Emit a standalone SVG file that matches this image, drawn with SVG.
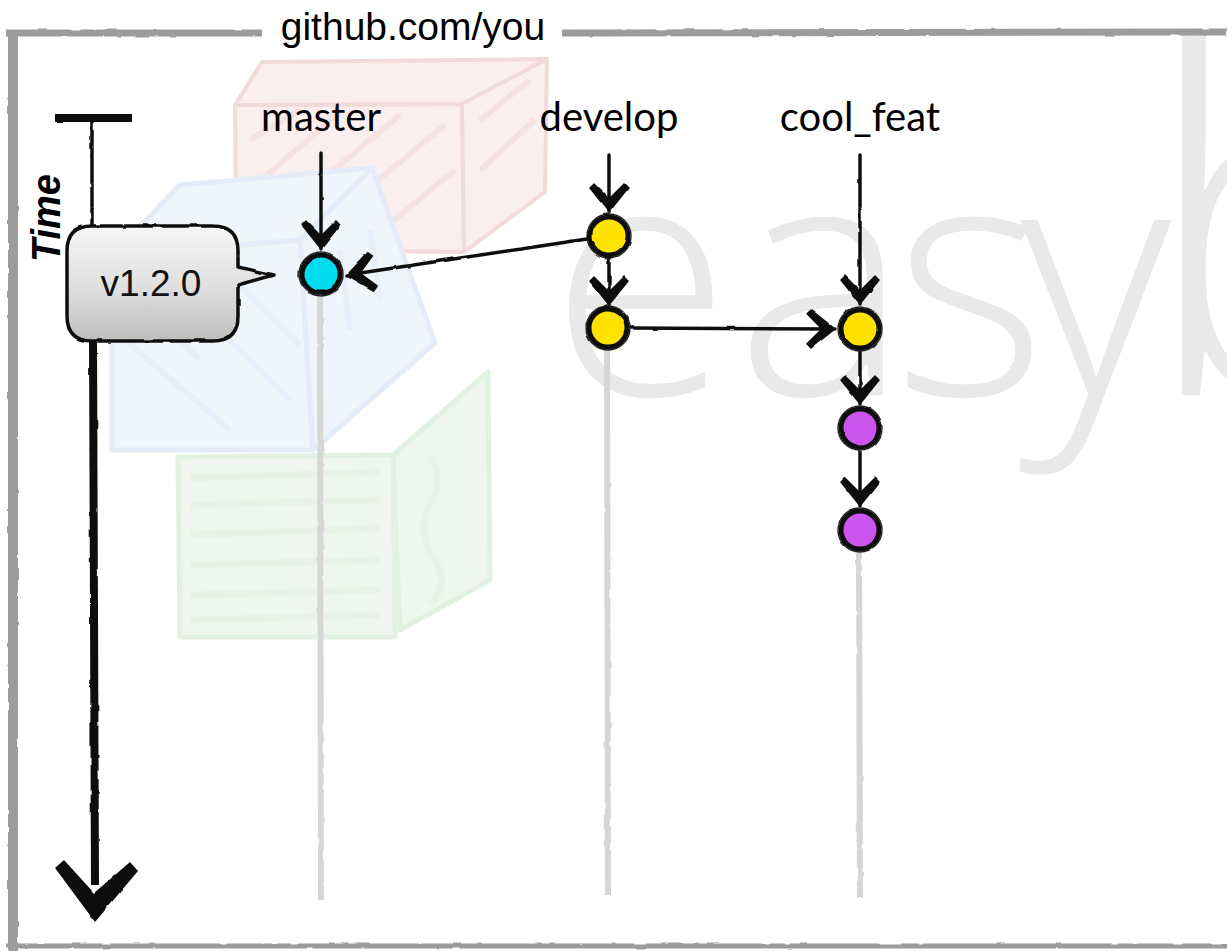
<svg xmlns="http://www.w3.org/2000/svg" width="1227" height="951" viewBox="0 0 1227 951">
  <defs>
    <style>
      .wm { fill: #e9e9e9; font-family: "Open Sans", "Noto Sans", sans-serif; font-weight: 300; }
      .frame { fill: none; stroke: #9c9c9c; stroke-linecap: butt; }
      .rail { fill: none; stroke: #d6d6d6; stroke-width: 6; stroke-linecap: butt; }
      .edge { fill: none; stroke: #111; stroke-width: 3.5; stroke-linecap: round; marker-end: url(#chev); }
      .ring { stroke: #111; stroke-width: 5; }
      .ring2 { fill: none; stroke: #222; stroke-width: 1.4; }
      .branch { font-family: Lato, "Open Sans", sans-serif; font-size: 40px; fill: #000; text-anchor: middle; }
      .cyan { fill: #00dcf0; }
      .yellow { fill: #ffe200; }
      .purple { fill: #cc55f0; }
    </style>
    <marker id="chev" viewBox="-31 -22 33 44" refX="0" refY="0" markerWidth="33" markerHeight="44" markerUnits="userSpaceOnUse" orient="auto">
      <path d="M1,0 L-24,-20 L-29,-15 L-14,0 L-29,15 L-24,20 Z" fill="#111"/>
    </marker>
    <linearGradient id="bubble" x1="0" y1="0" x2="0" y2="1">
      <stop offset="0" stop-color="#f6f6f6"/>
      <stop offset="0.55" stop-color="#dedede"/>
      <stop offset="1" stop-color="#bdbdbd"/>
    </linearGradient>
    <filter id="rough" x="-5%" y="-5%" width="110%" height="110%">
      <feTurbulence type="fractalNoise" baseFrequency="0.06" numOctaves="2" seed="3"/>
      <feDisplacementMap in="SourceGraphic" scale="2.5" xChannelSelector="R" yChannelSelector="G"/>
    </filter>
  </defs>

  <rect width="1227" height="951" fill="#fff"/>

  <!-- faint sketched blocks of the logo -->
  <g id="logo-blocks" opacity="0.8">
    <g id="block-red" fill="#faeaea" stroke="#f1d2d2" stroke-width="4" stroke-linejoin="round">
      <path d="M235,105 L462,104 L464,252 L236,250 Z"/>
      <path d="M235,105 L262,62 L547,59 L462,104 Z"/>
      <path d="M462,104 L547,59 L545,192 L464,252 Z"/>
      <g fill="none" stroke="#f4dcdc" stroke-width="6">
        <path d="M250,140 L300,110 M250,190 L340,112 M255,235 L400,115 M300,245 L445,125 M360,248 L455,170"/>
        <path d="M480,120 L530,80 M480,170 L535,120"/>
      </g>
    </g>
    <g id="block-blue" fill="#edf3fc" stroke="#dfe8f8" stroke-width="5" stroke-linejoin="round">
      <path d="M112,255 L300,240 L313,450 L112,450 Z"/>
      <path d="M112,255 L180,185 L372,168 L300,240 Z"/>
      <path d="M300,240 L372,168 L435,343 L313,450 Z"/>
      <g fill="none" stroke="#e3ebf9" stroke-width="6">
        <path d="M125,290 L200,360 M125,340 L230,430 M160,270 L290,400 M220,265 L300,345"/>
        <path d="M340,250 L350,330 M370,230 L380,300"/>
      </g>
    </g>
    <g id="block-green" fill="#ecf5ec" stroke="#dcefdc" stroke-width="5" stroke-linejoin="round">
      <path d="M178,457 L393,455 L395,637 L180,637 Z"/>
      <path d="M393,455 L488,372 L490,580 L400,630 Z"/>
      <g fill="none" stroke="#e2f1e2" stroke-width="7">
        <path d="M190,478 L380,472 M190,505 L380,500 M190,535 L380,528 M190,565 L380,560 M190,595 L380,590 M190,620 L380,615"/>
        <path d="M430,455 Q445,480 430,505 Q415,530 435,560 Q450,585 430,605"/>
      </g>
    </g>
  </g>

  <!-- watermark lettering -->
  <text id="watermark" class="wm" y="395" font-size="330"><tspan x="550">e</tspan><tspan x="735">a</tspan><tspan x="893">s</tspan><tspan x="1020">y</tspan><tspan x="1140" font-size="480">b</tspan></text>

  <!-- outer frame -->
  <g id="frame" filter="url(#rough)">
    <path class="frame" d="M6,33 L262,33" stroke-width="7"/>
    <path class="frame" d="M562,33 L1227,32" stroke-width="7"/>
    <path class="frame" d="M13,30 L13,951" stroke-width="10" stroke="#a3a3a3"/>
    <path class="frame" d="M6,946 L1227,946" stroke-width="5" stroke="#adadad"/>
  </g>
  <text id="title" x="413" y="40" font-family="'Liberation Sans', Arial, sans-serif" font-size="39" text-anchor="middle" fill="#000">github.com/you</text>

  <!-- time axis -->
  <g id="time-axis" filter="url(#rough)">
    <path d="M55,118 L132,118" stroke="#111" stroke-width="8" fill="none"/>
    <path d="M92,118 L92,230" stroke="#111" stroke-width="3.5" fill="none"/>
    <path d="M93,338 L95,885" stroke="#111" stroke-width="8" fill="none"/>
    <path d="M55,868 L64,860 L94,893 L130,862 L138,871 L95,922 Z" fill="#111"/>
  </g>
  <text id="time-label" transform="translate(60,262) rotate(-90)" font-family="'Liberation Sans', Arial, sans-serif" font-weight="bold" font-style="italic" font-size="40" textLength="88" lengthAdjust="spacingAndGlyphs" fill="#000">Time</text>

  <!-- branch rails -->
  <g id="rails" filter="url(#rough)">
    <path class="rail" d="M320,297 L321,900"/>
    <path class="rail" d="M607,350 L608,895"/>
    <path class="rail" d="M859,553 L860,898"/>
  </g>

  <!-- tag callout -->
  <g id="tag-v1.2.0">
    <path d="M92,226 L213,226 Q238,226 238,251 L238,267 L273,275 L238,285 L238,316 Q238,341 213,341 L92,341 Q67,341 67,316 L67,251 Q67,226 92,226 Z" fill="url(#bubble)" stroke="#111" stroke-width="3.5" stroke-linejoin="round" filter="url(#rough)"/>
    <text x="151" y="296" font-family="'Liberation Sans', Arial, sans-serif" font-size="37" text-anchor="middle" fill="#111">v1.2.0</text>
  </g>

  <!-- branch labels -->
  <text id="label-master" class="branch" x="321" y="131">master</text>
  <text id="label-develop" class="branch" x="609" y="131">develop</text>
  <text id="label-cool_feat" class="branch" x="860" y="131">cool_feat</text>

  <!-- connectors -->
  <g id="connectors" filter="url(#rough)">
    <path class="edge" d="M321,153 L321,249"/>
    <path class="edge" d="M609,155 L609,212"/>
    <path class="edge" d="M860,155 L860,304"/>
    <path class="edge" d="M587,239 L347,275"/>
    <path class="edge" d="M609,258 L609,305"/>
    <path class="edge" d="M631,328 L835,329"/>
    <path class="edge" d="M860,351 L860,404"/>
    <path class="edge" d="M860,451 L860,506"/>
  </g>

  <!-- commits -->
  <g id="commit-master" filter="url(#rough)">
    <circle class="cyan ring" cx="321" cy="274" r="19"/>
    <circle class="ring2" cx="321" cy="274" r="22"/>
  </g>
  <g id="commit-develop-1" filter="url(#rough)">
    <circle class="yellow ring" cx="609" cy="236" r="19"/>
    <circle class="ring2" cx="609" cy="236" r="22"/>
  </g>
  <g id="commit-develop-2" filter="url(#rough)">
    <circle class="yellow ring" cx="608" cy="328" r="19"/>
    <circle class="ring2" cx="608" cy="328" r="22"/>
  </g>
  <g id="commit-cool_feat-1" filter="url(#rough)">
    <circle class="yellow ring" cx="860" cy="329" r="19"/>
    <circle class="ring2" cx="860" cy="329" r="22"/>
  </g>
  <g id="commit-cool_feat-2" filter="url(#rough)">
    <circle class="purple ring" cx="860" cy="428" r="19"/>
    <circle class="ring2" cx="860" cy="428" r="22"/>
  </g>
  <g id="commit-cool_feat-3" filter="url(#rough)">
    <circle class="purple ring" cx="860" cy="530" r="19"/>
    <circle class="ring2" cx="860" cy="530" r="22"/>
  </g>
</svg>
